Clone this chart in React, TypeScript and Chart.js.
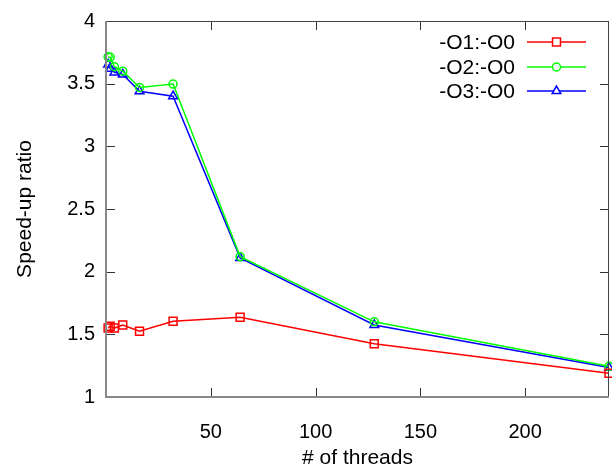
import React, { useEffect, useRef } from "react";
import { Chart, registerables } from "chart.js";

Chart.register(...registerables);

const threads = [1, 2, 4, 8, 16, 32, 64, 128, 240];
const o1 = [1.55, 1.565, 1.55, 1.575, 1.524, 1.605, 1.636, 1.425, 1.19];
const o2 = [3.714, 3.71, 3.635, 3.6, 3.47, 3.497, 2.12, 1.6, 1.245];
const o3 = [3.653, 3.62, 3.59, 3.574, 3.44, 3.4, 2.11, 1.575, 1.235];
const seriesLabels = ["-O1:-O0", "-O2:-O0", "-O3:-O0"];
const xTickValues = [50, 100, 150, 200];
const yTickValues = [1, 1.5, 2, 2.5, 3, 3.5, 4];

const FONT = "'Liberation Sans', Arial, sans-serif";

function drawMarker(ctx: CanvasRenderingContext2D, style: string, x: number, y: number, r: number, color: string) {
  ctx.save();
  ctx.strokeStyle = color;
  ctx.lineWidth = 1.5;
  ctx.fillStyle = "#ffffff";
  ctx.beginPath();
  if (style === "rect") {
    const s = Math.SQRT1_2 * r;
    ctx.rect(x - s, y - s, 2 * s, 2 * s);
  } else if (style === "circle") {
    ctx.arc(x, y, r, 0, Math.PI * 2);
  } else {
    const h = r;
    ctx.moveTo(x, y - h);
    ctx.lineTo(x + h * Math.cos(Math.PI / 6), y + h / 2);
    ctx.lineTo(x - h * Math.cos(Math.PI / 6), y + h / 2);
    ctx.closePath();
  }
  ctx.fill();
  ctx.stroke();
  ctx.restore();
}

const framePlugin = {
  id: "frame",
  afterDatasetsDraw(chart: any) {
    const { ctx, chartArea } = chart;
    const { left, right, top, bottom } = chartArea;
    const xs = chart.scales.x;
    const ys = chart.scales.y;
    ctx.save();
    ctx.strokeStyle = "#333";
    ctx.lineWidth = 1;
    const tl = 9;
    xTickValues.forEach((v) => {
      const px = Math.round(xs.getPixelForValue(v)) + 0.5;
      ctx.beginPath();
      ctx.moveTo(px, bottom);
      ctx.lineTo(px, bottom - tl);
      ctx.moveTo(px, top);
      ctx.lineTo(px, top + tl);
      ctx.stroke();
    });
    yTickValues.forEach((v) => {
      const py = Math.round(ys.getPixelForValue(v)) + 0.5;
      ctx.beginPath();
      ctx.moveTo(left, py);
      ctx.lineTo(left + tl, py);
      ctx.moveTo(right, py);
      ctx.lineTo(right - tl, py);
      ctx.stroke();
    });
    ctx.strokeStyle = "#444";
    ctx.lineWidth = 1;
    ctx.beginPath();
    ctx.moveTo(left, top + 0.5);
    ctx.lineTo(right, top + 0.5);
    ctx.moveTo(right - 0.5, top);
    ctx.lineTo(right - 0.5, bottom);
    ctx.stroke();
    ctx.strokeStyle = "#888";
    ctx.lineWidth = 2;
    ctx.beginPath();
    ctx.moveTo(left, top);
    ctx.lineTo(left, bottom);
    ctx.lineTo(right, bottom);
    ctx.stroke();

    const rows = [42, 67, 91];
    ctx.font = "21px " + FONT;
    ctx.textAlign = "right";
    ctx.textBaseline = "middle";
    chart.data.datasets.forEach((ds: any, i: number) => {
      const y = rows[i];
      ctx.fillStyle = "#000";
      ctx.fillText(ds.label, 515, y + 1);
      ctx.strokeStyle = ds.borderColor;
      ctx.lineWidth = 1.5;
      ctx.beginPath();
      ctx.moveTo(527, y);
      ctx.lineTo(586, y);
      ctx.stroke();
      drawMarker(ctx, ds.pointStyle, 556.5, y, ds.pointRadius, ds.borderColor);
    });
    ctx.restore();
  },
};

export default function App() {
  const ref = useRef<HTMLCanvasElement | null>(null);
  useEffect(() => {
    document.body.style.margin = "0";
    const canvas = ref.current!;
    const mk = (label: string, data: number[], color: string, style: string, r: number) => ({
      label,
      data: threads.map((t, i) => ({ x: t, y: data[i] })),
      borderColor: color,
      backgroundColor: "#ffffff",
      pointBorderColor: color,
      pointBackgroundColor: "rgba(255,255,255,0)",
      pointStyle: style,
      pointRadius: r,
      pointBorderWidth: 1.5,
      borderWidth: 1.5,
      tension: 0,
      clip: false as any,
    });
    const chart = new Chart(canvas, {
      type: "line",
      data: {
        datasets: [
          mk(seriesLabels[0], o1, "#ff0000", "rect", 5.6),
          mk(seriesLabels[1], o2, "#00ff00", "circle", 4),
          mk(seriesLabels[2], o3, "#0000ff", "triangle", 5),
        ] as any,
      },
      options: {
        animation: false,
        responsive: false,
        events: [],
        layout: { autoPadding: false, padding: { top: 19, right: 3, left: 0, bottom: 0 } },
        plugins: { legend: { display: false }, tooltip: { enabled: false } },
        scales: {
          x: {
            type: "linear",
            min: 0,
            max: 240,
            afterBuildTicks: (s: any) => {
              s.ticks = xTickValues.map((v) => ({ value: v }));
            },
            afterFit: (s: any) => {
              s.height = 71;
            },
            grid: { display: false, drawTicks: false },
            border: { display: false },
            ticks: {
              color: "#000",
              font: { family: FONT, size: 20, lineHeight: 1 },
              padding: 25,
              maxRotation: 0,
              callback: (v: any) => String(v),
            },
            title: {
              display: true,
              text: "# of threads",
              color: "#000",
              font: { family: FONT, size: 21, lineHeight: 0.9 },
              padding: { top: 0, bottom: 0 },
            },
          },
          y: {
            type: "linear",
            min: 1,
            max: 4,
            afterBuildTicks: (s: any) => {
              s.ticks = yTickValues.map((v) => ({ value: v }));
            },
            afterFit: (s: any) => {
              s.width = 106;
            },
            grid: { display: false, drawTicks: false },
            border: { display: false },
            ticks: {
              color: "#000",
              font: { family: FONT, size: 20, lineHeight: 1 },
              padding: 11,
              callback: (v: any) => String(v),
            },
            title: {
              display: true,
              text: "Speed-up ratio",
              color: "#000",
              font: { family: FONT, size: 21, lineHeight: 1 },
              padding: { top: 15, bottom: 0 },
            },
          },
        },
      },
      plugins: [framePlugin],
    });
    return () => chart.destroy();
  }, []);
  return <canvas ref={ref} width={612} height={468} style={{ display: "block" }} />;
}
